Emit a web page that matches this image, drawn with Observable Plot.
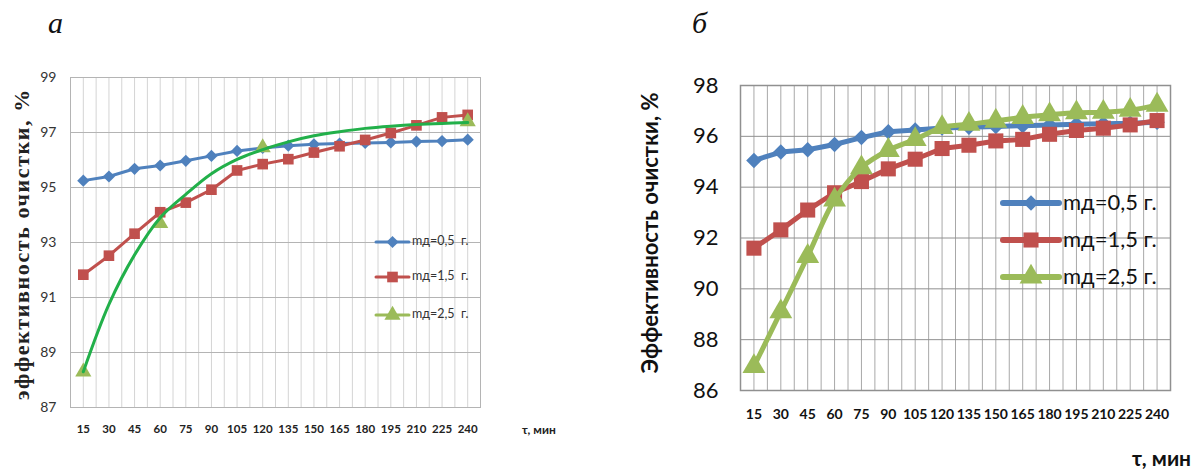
<!DOCTYPE html>
<html><head><meta charset="utf-8">
<script src="https://cdn.jsdelivr.net/npm/d3@7"></script>
<script src="https://cdn.jsdelivr.net/npm/@observablehq/plot@0.6"></script>
<style>
body{margin:0;background:#fff;}
#wrap{position:relative;width:1203px;height:470px;overflow:hidden;background:#fff;}
.abs{position:absolute;white-space:pre;line-height:1;}
</style></head><body><div id="wrap"></div>
<script>
// ---- data ----
const times = [15,30,45,60,75,90,105,120,135,150,165,180,195,210,225,240];
const seriesNames = ["mд=0,5 г.", "mд=1,5 г.", "mд=2,5 г."];
const seriesNamesA = ["mд=0,5  г.", "mд=1,5  г.", "mд=2,5  г."];
const colors = ["#4F81BD", "#C0504D", "#9BBB59"];
const trendColor = "#22B04A";

// panel а
const aMd05 = [95.25,95.4,95.68,95.8,95.97,96.15,96.33,96.44,96.52,96.57,96.6,96.62,96.64,96.67,96.69,96.74];
const aMd15 = [91.83,92.52,93.32,94.1,94.45,94.92,95.62,95.85,96.03,96.27,96.5,96.73,96.98,97.26,97.55,97.64];
const aMd25Times = [15,60,120,240];
const aMd25 = [88.3,93.7,96.45,97.4];
const aMd25Curve = [88.3,90.75,92.55,93.9,94.75,95.5,96.02,96.38,96.66,96.88,97.03,97.15,97.23,97.29,97.33,97.36];
const aYTicks = [87,89,91,93,95,97,99];

// panel б
const bMd05 = [95.05,95.38,95.47,95.68,95.95,96.18,96.25,96.33,96.36,96.39,96.42,96.45,96.48,96.5,96.51,96.55];
const bMd15 = [91.6,92.32,93.1,93.78,94.22,94.72,95.1,95.52,95.65,95.82,95.88,96.08,96.23,96.32,96.45,96.62];
const bMd25 = [86.95,89.1,91.28,93.5,94.77,95.45,95.88,96.35,96.48,96.6,96.75,96.85,96.93,96.95,97.03,97.23];
const bYTicks = [86,88,90,92,94,96,98];

// ---- helpers ----
const step = times[1] - times[0];
const xDomain = [times[0] - step/2, times[times.length-1] + step/2];
const gridXs = d3.range(2*times.length + 1).map(i => xDomain[0] + i*step/2);
const rows = (vals, ts = times) => vals.map((v, i) => ({t: ts[i], v}));
const symbols = ["diamond2", "square", "triangle"];
const wrap = document.getElementById("wrap");

function addText(txt, css){
  const d = document.createElement("div");
  d.className = "abs"; d.textContent = txt;
  Object.assign(d.style, css);
  wrap.appendChild(d); return d;
}

// ---- panel а ----
const plotA = Plot.plot({
  width: 600, height: 470,
  marginLeft: 70, marginTop: 77, marginRight: 120, marginBottom: 63,
  x: {domain: xDomain}, y: {domain: [87, 99]},
  style: {fontFamily: "Lato, sans-serif", background: "transparent", overflow: "visible"},
  marks: [
    Plot.gridX(gridXs, {stroke: "#d4d4d4", strokeOpacity: 1}),
    Plot.gridY(aYTicks, {stroke: "#b4b4b4", strokeOpacity: 1}),
    Plot.frame({stroke: "#b4b4b4"}),
    Plot.axisX(times, {tickSize: 0, tickPadding: 17, fontSize: 11.5, fontWeight: "bold", fill: "#222", label: null}),
    Plot.axisY(aYTicks, {tickSize: 0, tickPadding: 14, fontSize: 14, fill: "#333", label: null}),
    Plot.line(rows(aMd05), {x: "t", y: "v", stroke: colors[0], strokeWidth: 3}),
    Plot.dot(rows(aMd05), {x: "t", y: "v", symbol: symbols[0], r: 5.5, fill: colors[0], stroke: null}),
    Plot.line(rows(aMd15), {x: "t", y: "v", stroke: colors[1], strokeWidth: 3}),
    Plot.dot(rows(aMd15), {x: "t", y: "v", symbol: symbols[1], r: 6, fill: colors[1], stroke: null}),
    Plot.dot(rows(aMd25, aMd25Times), {x: "t", y: "v", symbol: symbols[2], r: 6, fill: colors[2], stroke: null}),
    Plot.line(rows(aMd25Curve), {x: "t", y: "v", stroke: trendColor, strokeWidth: 3, curve: "catmull-rom"})
  ]
});
Object.assign(plotA.style, {position: "absolute", left: "0px", top: "0px"});
wrap.appendChild(plotA);

// ---- panel б ----
const plotB = Plot.plot({
  width: 603, height: 470,
  marginLeft: 140, marginTop: 85, marginRight: 33, marginBottom: 80,
  x: {domain: xDomain}, y: {domain: [86, 98]},
  style: {fontFamily: "Lato, sans-serif", background: "transparent", overflow: "visible"},
  marks: [
    Plot.gridX(gridXs, {stroke: "#a8a8a8", strokeOpacity: 1}),
    Plot.gridY(bYTicks, {stroke: "#909090", strokeOpacity: 1}),
    Plot.frame({stroke: "#909090", strokeWidth: 1.5}),
    Plot.axisX(times, {tickSize: 0, tickPadding: 19, fontSize: 14, fontWeight: "bold", fill: "#111", label: null}),
    Plot.axisY(bYTicks, {tickSize: 0, tickPadding: 22, fontSize: 22, fill: "#111", label: null}),
    Plot.line(rows(bMd05), {x: "t", y: "v", stroke: colors[0], strokeWidth: 5}),
    Plot.dot(rows(bMd05), {x: "t", y: "v", symbol: symbols[0], r: 7, fill: colors[0], stroke: null}),
    Plot.line(rows(bMd15), {x: "t", y: "v", stroke: colors[1], strokeWidth: 5}),
    Plot.dot(rows(bMd15), {x: "t", y: "v", symbol: symbols[1], r: 8.5, fill: colors[1], stroke: null}),
    Plot.line(rows(bMd25), {x: "t", y: "v", stroke: colors[2], strokeWidth: 5, curve: "catmull-rom"}),
    Plot.dot(rows(bMd25), {x: "t", y: "v", symbol: symbols[2], r: 8.5, fill: colors[2], stroke: null})
  ]
});
Object.assign(plotB.style, {position: "absolute", left: "600px", top: "0px"});
wrap.appendChild(plotB);

// ---- legends ----
function legend(x, ys, names, lineLen, lw, rs, fontSize, color, gap){
  names.forEach((name, i) => {
    const svg = d3.create("svg").attr("width", lineLen + 4).attr("height", 30)
      .style("position", "absolute").style("left", x + "px").style("top", (ys[i] - 15) + "px").style("overflow", "visible");
    svg.append("line").attr("x1", 2).attr("x2", lineLen + 2).attr("y1", 15).attr("y2", 15)
      .attr("stroke", colors[i]).attr("stroke-width", lw).attr("stroke-linecap", "round");
    const sym = [d3.symbolDiamond2, d3.symbolSquare, d3.symbolTriangle][i];
    svg.append("path").attr("d", d3.symbol(sym, Math.PI * rs[i] * rs[i])())
      .attr("transform", `translate(${lineLen/2 + 2},15)`).attr("fill", colors[i]);
    wrap.appendChild(svg.node());
    addText(name, {left: (x + lineLen + gap) + "px", top: (ys[i] - fontSize*0.55) + "px",
      fontFamily: "Lato, sans-serif", fontSize: fontSize + "px", color});
  });
}
legend(374, [241.5, 277, 315], seriesNamesA, 33, 3, [5.5, 6, 6], 12.5, "#333", 5);
legend(1001, [203, 240, 277], seriesNames, 56, 6, [7, 8.5, 8.5], 22, "#111", 6);

// ---- titles ----
addText("а", {left: "48px", top: "8px", fontFamily: "'Liberation Serif', serif", fontStyle: "italic", fontSize: "30px", color: "#111"});
addText("б", {left: "692px", top: "8px", fontFamily: "'Liberation Serif', serif", fontStyle: "italic", fontSize: "30px", color: "#111"});
addText("эффективность очистки, %", {left: "22px", top: "244px", transform: "translate(-50%,-50%) rotate(-90deg)",
  fontFamily: "'Liberation Serif', serif", fontWeight: "bold", fontSize: "22px", color: "#222", letterSpacing: "1.6px"});
addText("Эффективность очистки, %", {left: "650px", top: "233px", transform: "translate(-50%,-50%) rotate(-90deg)",
  fontFamily: "Lato, sans-serif", fontWeight: "bold", fontSize: "22px", color: "#111"});
addText("τ, мин", {left: "522px", top: "424px", fontFamily: "Lato, sans-serif", fontWeight: "bold", fontSize: "12px", color: "#222"});
addText("τ, мин", {left: "1132px", top: "447px", fontFamily: "Lato, sans-serif", fontWeight: "bold", fontSize: "21px", color: "#111"});
</script>
</body></html>
